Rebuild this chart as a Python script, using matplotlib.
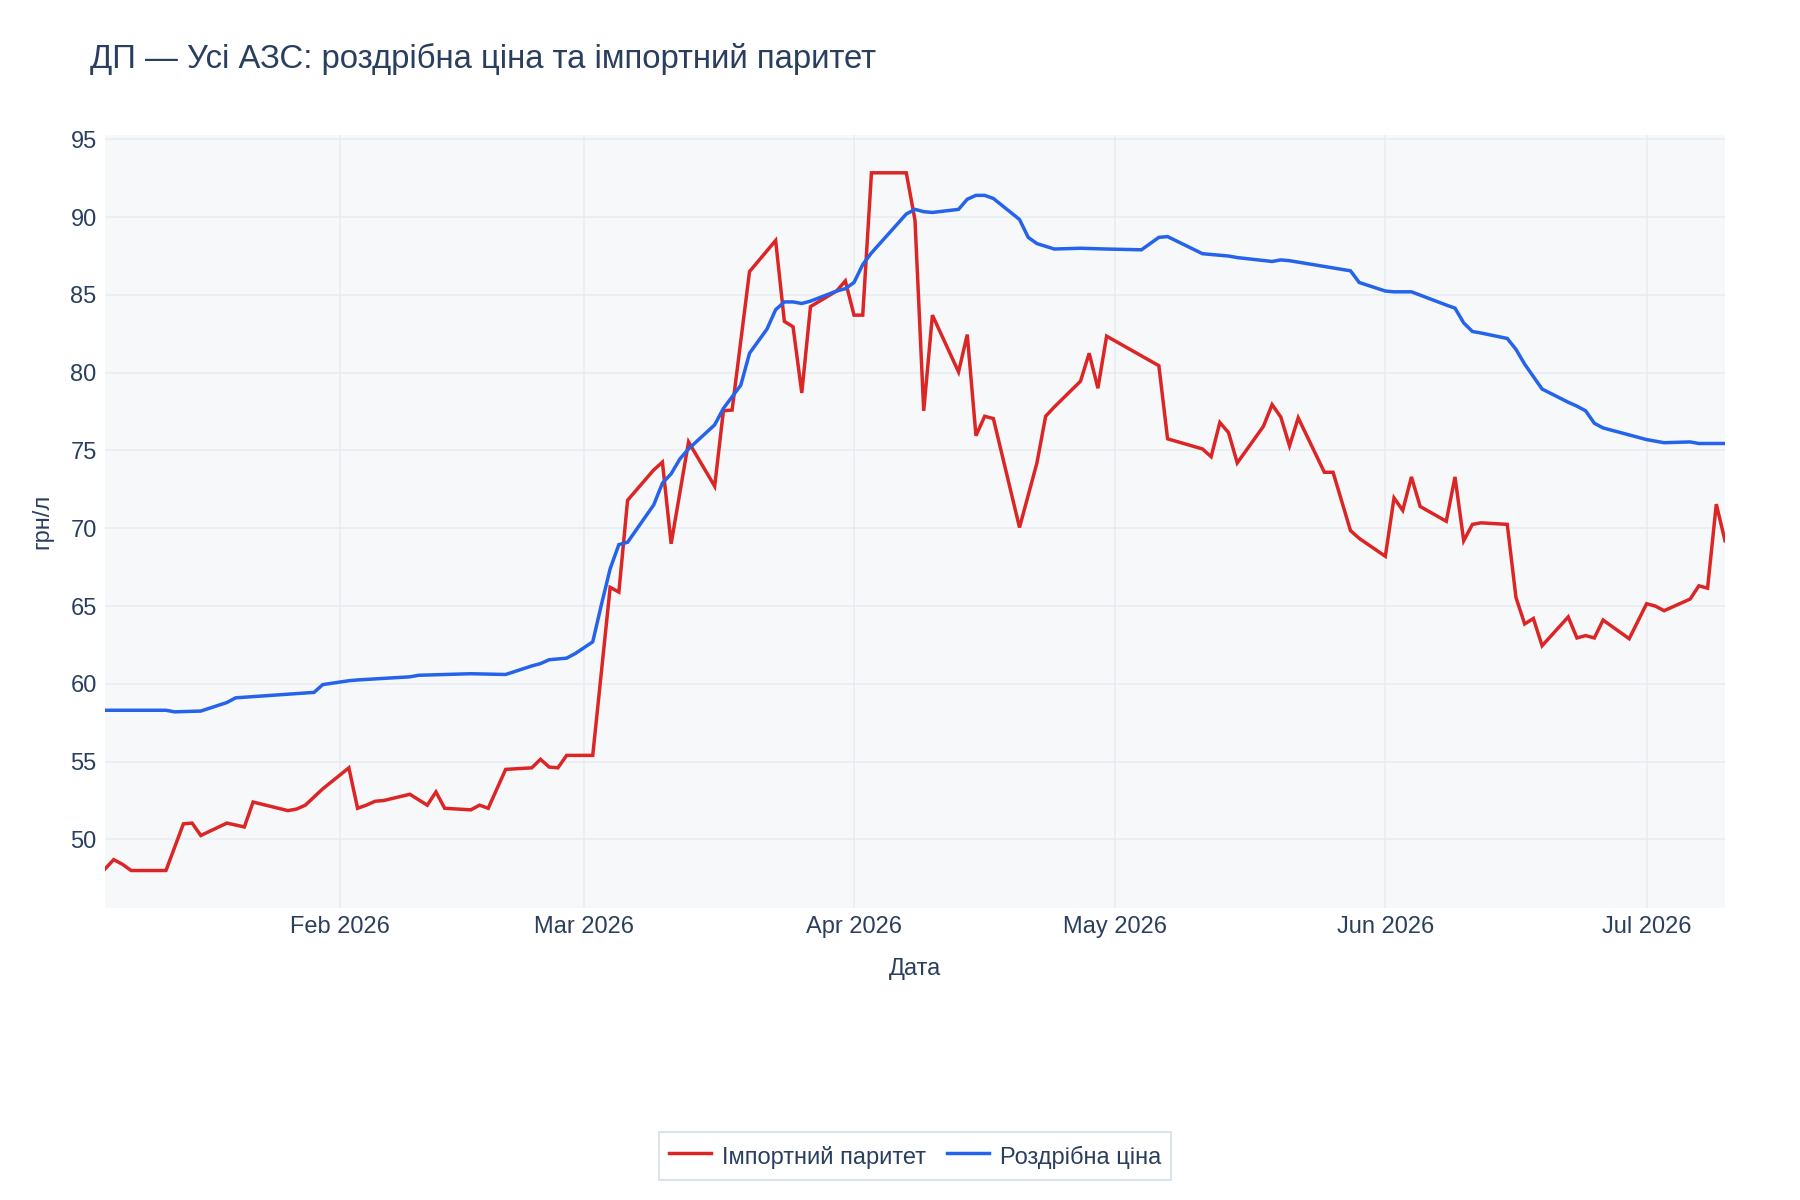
import matplotlib
matplotlib.use("Agg")
import matplotlib.pyplot as plt
import matplotlib.dates as mdates
import pandas as pd

# імпортний паритет (red)
parity_dates = [
    "01-05", "01-06", "01-07", "01-08", "01-09", "01-12", "01-14", "01-15", "01-16", "01-19",
    "01-21", "01-22", "01-26", "01-27", "01-28", "01-30", "02-02", "02-03", "02-04", "02-05",
    "02-06", "02-09", "02-11", "02-12", "02-13", "02-16", "02-17", "02-18", "02-20", "02-23",
    "02-24", "02-25", "02-26", "02-27", "03-02", "03-04", "03-05", "03-06", "03-09", "03-10",
    "03-11", "03-13", "03-16", "03-17", "03-18", "03-20", "03-23", "03-24", "03-25", "03-26",
    "03-27", "03-30", "03-31", "04-01", "04-02", "04-03", "04-07", "04-08", "04-09", "04-10",
    "04-13", "04-14", "04-15", "04-16", "04-17", "04-20", "04-22", "04-23", "04-24", "04-27",
    "04-28", "04-29", "04-30", "05-06", "05-07", "05-11", "05-12", "05-13", "05-14", "05-15",
    "05-18", "05-19", "05-20", "05-21", "05-22", "05-25", "05-26", "05-28", "05-29", "06-01",
    "06-02", "06-03", "06-04", "06-05", "06-08", "06-09", "06-10", "06-11", "06-12", "06-15",
    "06-16", "06-17", "06-18", "06-19", "06-22", "06-23", "06-24", "06-25", "06-26", "06-29",
    "07-01", "07-02", "07-03", "07-06", "07-07", "07-08", "07-09", "07-10",
]
parity_values = [
    48.1, 48.7, 48.4, 48.0, 48.0, 48.0, 51.0, 51.05, 50.25, 51.05,
    50.8, 52.4, 51.85, 51.95, 52.2, 53.25, 54.6, 52.0, 52.2, 52.45,
    52.5, 52.9, 52.2, 53.05, 52.0, 51.9, 52.2, 52.0, 54.5, 54.6,
    55.15, 54.65, 54.6, 55.4, 55.4, 66.2, 65.9, 71.8, 73.75, 74.25,
    69.0, 75.55, 72.7, 77.55, 77.6, 86.5, 88.5, 83.3, 82.95, 78.7,
    84.25, 85.25, 85.9, 83.7, 83.7, 92.85, 92.85, 89.8, 77.55, 83.7,
    80.05, 82.45, 75.95, 77.2, 77.05, 70.05, 74.2, 77.2, 77.8, 79.45,
    81.25, 79.0, 82.35, 80.45, 75.75, 75.1, 74.6, 76.8, 76.15, 74.2,
    76.55, 77.95, 77.15, 75.3, 77.1, 73.6, 73.6, 69.85, 69.35, 68.2,
    71.95, 71.15, 73.3, 71.4, 70.45, 73.3, 69.2, 70.25, 70.35, 70.25,
    65.55, 63.85, 64.2, 62.45, 64.3, 62.95, 63.1, 62.95, 64.1, 62.9,
    65.15, 65.0, 64.7, 65.45, 66.3, 66.15, 71.55, 69.2,
]

# роздрібна ціна (blue)
retail_dates = [
    "01-05", "01-06", "01-07", "01-08", "01-09", "01-12", "01-13", "01-16", "01-19", "01-20",
    "01-29", "01-30", "02-02", "02-03", "02-09", "02-10", "02-16", "02-20", "02-23", "02-24",
    "02-25", "02-27", "02-28", "03-02", "03-03", "03-04", "03-05", "03-06", "03-09", "03-10",
    "03-11", "03-12", "03-13", "03-16", "03-17", "03-19", "03-20", "03-22", "03-23", "03-24",
    "03-25", "03-26", "03-27", "03-30", "03-31", "04-01", "04-02", "04-03", "04-07", "04-08",
    "04-09", "04-10", "04-13", "04-14", "04-15", "04-16", "04-17", "04-20", "04-21", "04-22",
    "04-24", "04-27", "04-30", "05-04", "05-06", "05-07", "05-11", "05-14", "05-15", "05-19",
    "05-20", "05-21", "05-28", "05-29", "06-01", "06-02", "06-04", "06-08", "06-09", "06-10",
    "06-11", "06-12", "06-15", "06-16", "06-17", "06-19", "06-22", "06-23", "06-24", "06-25",
    "06-26", "06-29", "07-01", "07-03", "07-06", "07-07", "07-10",
]
retail_values = [
    58.3, 58.3, 58.3, 58.3, 58.3, 58.3, 58.2, 58.25, 58.8, 59.1,
    59.45, 59.95, 60.2, 60.25, 60.45, 60.55, 60.65, 60.6, 61.15, 61.3,
    61.55, 61.65, 61.95, 62.7, 65.1, 67.4, 68.95, 69.1, 71.5, 72.9,
    73.5, 74.45, 75.1, 76.65, 77.7, 79.2, 81.25, 82.8, 84.05, 84.55,
    84.55, 84.45, 84.6, 85.25, 85.4, 85.8, 86.95, 87.7, 90.2, 90.5,
    90.35, 90.3, 90.5, 91.15, 91.4, 91.4, 91.2, 89.85, 88.7, 88.3,
    87.95, 88.0, 87.95, 87.9, 88.7, 88.75, 87.65, 87.5, 87.4, 87.15,
    87.25, 87.2, 86.55, 85.8, 85.25, 85.2, 85.2, 84.35, 84.15, 83.2,
    82.65, 82.55, 82.2, 81.5, 80.55, 78.95, 78.1, 77.85, 77.55, 76.75,
    76.45, 76.0, 75.7, 75.5, 75.55, 75.45, 75.45,
]

title = "ДП — Усі АЗС: роздрібна ціна та імпортний паритет"
text_color = "#2a3f5f"

plt.rcParams["font.family"] = ["Liberation Sans", "DejaVu Sans"]

px = pd.to_datetime(["2026-" + d for d in parity_dates])
rx = pd.to_datetime(["2026-" + d for d in retail_dates])

fig = plt.figure(figsize=(18, 12), dpi=100)
ax = fig.add_axes([105 / 1800, 1 - 908 / 1200, 1620 / 1800, 773 / 1200])
ax.set_facecolor("#f7f8fa")

ax.plot(px, parity_values, color="#dc2626", lw=2.5, label="Імпортний паритет", solid_joinstyle="miter")
ax.plot(rx, retail_values, color="#2563eb", lw=2.5, label="Роздрібна ціна", solid_joinstyle="miter")

ax.set_xlim(px[0], px[-1])
ax.set_ylim(45.59, 95.28)
ax.set_yticks(range(50, 96, 5))
ax.xaxis.set_major_locator(mdates.MonthLocator(bymonthday=1))
ax.xaxis.set_major_formatter(mdates.DateFormatter("%b %Y"))
ax.grid(True, color="#e8ebf1", lw=1.1)
ax.set_axisbelow(True)
for s in ax.spines.values():
    s.set_visible(False)
ax.tick_params(length=0, labelsize=17, colors=text_color, pad=6)

ax.set_xlabel("Дата", fontsize=17, color=text_color, labelpad=14)
ax.set_ylabel("грн/л", fontsize=17, color=text_color, labelpad=12)

fig.text(90 / 1800, 1 - 59 / 1200, title, fontsize=23.7, color=text_color, va="center", ha="left")

leg = fig.legend(loc="center", bbox_to_anchor=(915 / 1800, 1 - 1156 / 1200), ncol=2,
                 frameon=True, fancybox=False, edgecolor="#c8d4e3", fontsize=17,
                 handlelength=1.8, handleheight=1.4, columnspacing=0.9, handletextpad=0.45,
                 borderpad=0.42)
for t in leg.get_texts():
    t.set_color(text_color)
leg.get_frame().set_linewidth(1.2)

fig.savefig("out.png", dpi=100, facecolor="white")
